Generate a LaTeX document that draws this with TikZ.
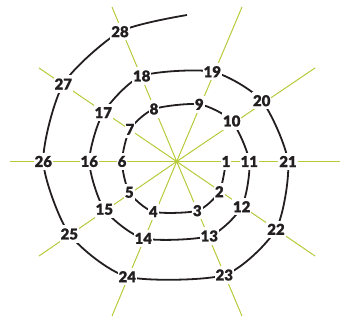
\documentclass[tikz,border=0pt]{standalone}
\usepackage{fontspec}
\setmainfont{Liberation Sans}
\newfontfamily\labfont[FakeBold=0.6]{Lato Black}
\definecolor{raycol}{RGB}{184,202,58}
\definecolor{ink}{RGB}{35,31,32}
\begin{document}
\begin{tikzpicture}[x=1pt,y=-1pt,
  ray/.style={draw=raycol,line width=1pt},
  spiral/.style={draw=ink,line width=1.8pt},
  lab/.style={fill=white,text=ink,inner xsep=1pt,inner ysep=3pt,font=\labfont\fontsize{15}{15}\selectfont}]
\useasboundingbox (0,0) rectangle (340,320);
\coordinate (c) at (176.7,161.5);
% ray ends
\coordinate (rE) at (340,161.5);
\coordinate (rW) at (10,161.5);
\coordinate (rNE) at (315,68);
\coordinate (rSE) at (315,256);
\coordinate (rNW) at (39,68);
\coordinate (rSW) at (39,256);
\coordinate (rNNE) at (242,7);
\coordinate (rSSE) at (242,316);
\coordinate (rNNW) at (112,7);
\coordinate (rSSW) at (112,316);
\foreach \e in {rE,rW,rNE,rSE,rNW,rSW,rNNE,rSSE,rNNW,rSSW}
  \draw[ray] (c) -- (\e);
\fill[raycol] (c) circle (1.6);
% spiral points
\coordinate (p1) at (226,161.5);
\coordinate (p2) at (219.3,191.7);
\coordinate (p3) at (197.3,210.7);
\coordinate (p4) at (153.3,211.7);
\coordinate (p5) at (129.3,192.3);
\coordinate (p6) at (122,161.5);
\coordinate (p7) at (130,129.3);
\coordinate (p8) at (154,109);
\coordinate (p9) at (199.3,104.3);
\coordinate (p10) at (231.7,121);
\coordinate (p11) at (249.3,161.5);
\coordinate (p12) at (241.7,206.7);
\coordinate (p13) at (209.3,236);
\coordinate (p14) at (143.3,238.3);
\coordinate (p15) at (104.3,209.3);
\coordinate (p16) at (89.3,161.5);
\coordinate (p17) at (103.3,112.7);
\coordinate (p18) at (141.7,76);
\coordinate (p19) at (212.3,71.7);
\coordinate (p20) at (261.7,100.7);
\coordinate (p21) at (288,161.5);
\coordinate (p22) at (276,229.3);
\coordinate (p23) at (224.3,275);
\coordinate (p24) at (127.3,276.7);
\coordinate (p25) at (69.3,234);
\coordinate (p26) at (43.3,161.5);
\coordinate (p27) at (63.3,84);
\coordinate (p28) at (120,31.7);
\coordinate (pend) at (187,15);
\draw[spiral] plot[smooth,tension=0.42] coordinates {(p1) (p2) (p3) (p4) (p5) (p6) (p7) (p8) (p9) (p10) (p11) (p12) (p13) (p14) (p15) (p16) (p17) (p18) (p19) (p20) (p21) (p22) (p23) (p24) (p25) (p26) (p27) (p28) (pend)};
\foreach \i in {1,...,28}
  \node[lab] (n\i) at (p\i) {\i};
\end{tikzpicture}
\end{document}
